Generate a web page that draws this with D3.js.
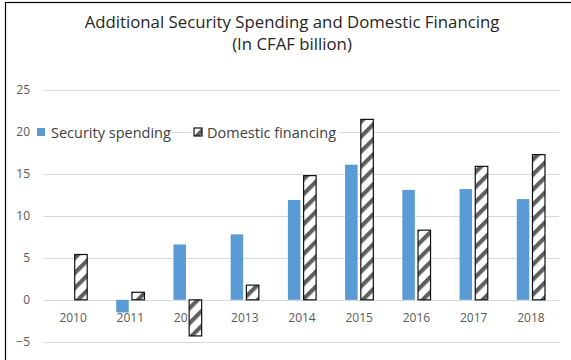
<!DOCTYPE html>
<html>
<head>
<meta charset="utf-8">
<script src="https://cdn.jsdelivr.net/npm/d3@7"></script>
<style>
  html, body { margin: 0; padding: 0; background: #fff; }
  svg { display: block; }
  text { font-family: "Open Sans", "Noto Sans", sans-serif; }
</style>
</head>
<body>
<svg id="chart" width="571" height="360"></svg>
<script>
// Chart data
const years = ["2010", "2011", "2012", "2013", "2014", "2015", "2016", "2017", "2018"];
const securitySpending = [0, -1.5, 6.6, 7.8, 11.9, 16.1, 13.1, 13.2, 12.0];
const domesticFinancing = [5.4, 0.9, -4.3, 1.75, 14.8, 21.5, 8.3, 15.9, 17.3];
const yTicks = [-5, 0, 5, 10, 15, 20, 25];
const seriesNames = ["Security spending", "Domestic financing"];
const titleLines = ["Additional Security Spending and Domestic Financing", "(In CFAF billion)"];

const svg = d3.select("#chart");

// Outer frame (open on the right and bottom edges)
svg.append("rect").attr("x", 5.5).attr("y", 2.5).attr("width", 600).attr("height", 400)
  .attr("fill", "#fff").attr("stroke", "#000").attr("stroke-width", 1.2);

// Hatch pattern for the domestic financing bars
const defs = svg.append("defs");
const pat = defs.append("pattern")
  .attr("id", "hatch").attr("patternUnits", "userSpaceOnUse")
  .attr("width", 10.6).attr("height", 10.6)
  .attr("patternTransform", "rotate(45)");
pat.append("rect").attr("width", 10.6).attr("height", 10.6).attr("fill", "#fff");
pat.append("rect").attr("x", 0).attr("y", 0).attr("width", 4.2).attr("height", 10.6).attr("fill", "#5f5f5f");

// Scales
const x = d3.scaleBand().domain(years).range([44.5, 559.5]);
const y = d3.scaleLinear().domain([-5, 25]).range([341.8, 90]);

// Gridlines
svg.append("g").selectAll("line").data(yTicks).join("line")
  .attr("x1", 43).attr("x2", 559)
  .attr("y1", d => Math.round(y(d)) + 0.5).attr("y2", d => Math.round(y(d)) + 0.5)
  .attr("stroke", "#d9d9d9").attr("stroke-width", 1);

// Y axis labels
const yAxis = d3.axisLeft(y).tickValues(yTicks).tickSize(0).tickPadding(0);
const gy = svg.append("g").attr("transform", "translate(30,0)").call(yAxis);
gy.select(".domain").remove();
gy.selectAll("text").attr("fill", "#595959").style("font-size", "12px")
  .style("font-family", "\"Open Sans\", sans-serif");

// X axis labels
const xAxis = d3.axisBottom(x).tickSize(0).tickPadding(0);
const gx = svg.append("g").attr("transform", "translate(0,313)").call(xAxis);
gx.select(".domain").remove();
gx.selectAll("text").attr("fill", "#595959").style("font-size", "12px")
  .style("font-family", "\"Open Sans\", sans-serif");

// Bars
const bw = 12.5, gap = 1.6;
const center = d => x(d) + x.bandwidth() / 2;

svg.append("g").selectAll("rect").data(years).join("rect")
  .attr("x", d => center(d) - gap - bw)
  .attr("width", bw)
  .attr("y", (d, i) => y(Math.max(0, securitySpending[i])))
  .attr("height", (d, i) => Math.abs(y(securitySpending[i]) - y(0)))
  .attr("fill", "#5b9bd5");

svg.append("g").selectAll("rect").data(years).join("rect")
  .attr("x", d => center(d) + gap)
  .attr("width", bw)
  .attr("y", (d, i) => y(Math.max(0, domesticFinancing[i])))
  .attr("height", (d, i) => Math.abs(y(domesticFinancing[i]) - y(0)))
  .attr("fill", "url(#hatch)")
  .attr("stroke", "#111").attr("stroke-width", 1.2);

// Legend (each entry sits on a white backing)
const leg = svg.append("g");
leg.append("rect").attr("x", 35).attr("y", 124).attr("width", 137).attr("height", 18).attr("fill", "#fff");
leg.append("rect").attr("x", 191).attr("y", 124).attr("width", 148).attr("height", 18).attr("fill", "#fff");
leg.append("rect").attr("x", 37).attr("y", 128).attr("width", 8).attr("height", 8).attr("fill", "#5b9bd5");
leg.append("text").attr("x", 51).attr("y", 137.5).text(seriesNames[0])
  .attr("fill", "#404040").style("font-size", "14.5px");
leg.append("rect").attr("x", 194).attr("y", 128).attr("width", 8).attr("height", 8)
  .attr("fill", "url(#hatch)").attr("stroke", "#111").attr("stroke-width", 1.2);
leg.append("text").attr("x", 207).attr("y", 137.5).text(seriesNames[1])
  .attr("fill", "#404040").style("font-size", "14.5px");

// Title
svg.append("g").selectAll("text").data(titleLines).join("text")
  .attr("x", 292).attr("y", (d, i) => 27.5 + i * 22.5)
  .attr("text-anchor", "middle")
  .attr("fill", "#262626").style("font-size", "16.8px")
  .text(d => d);
</script>
</body>
</html>
